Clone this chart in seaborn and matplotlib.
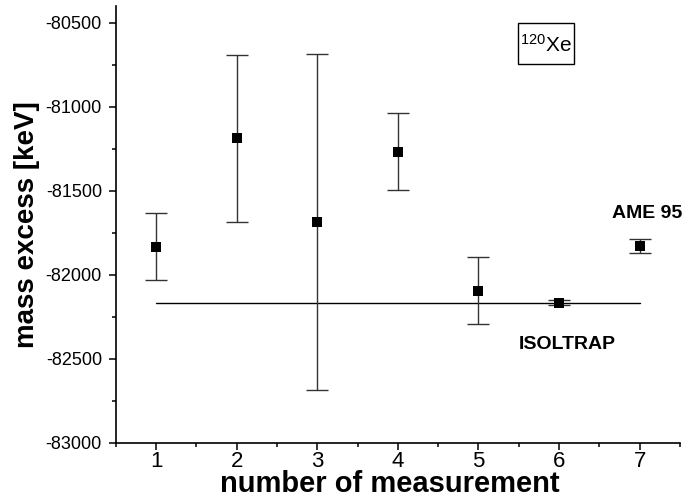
import matplotlib
matplotlib.use("Agg")
import matplotlib.pyplot as plt
from matplotlib.patches import Rectangle
from matplotlib.ticker import MultipleLocator
import seaborn as sns
import pandas as pd

# values
measurement = [1, 2, 3, 4, 5, 6, 7]
mass_excess = [-81832, -81188, -81687, -81268, -82095, -82167, -81830]
mass_error = [200, 497, 1000, 230, 200, 14, 42]
isoltrap_value = -82167
isoltrap_span = [1, 7]

df = pd.DataFrame({"measurement": measurement, "mass_excess": mass_excess, "error": mass_error})

sns.set_style("ticks")
plt.rcParams["font.family"] = ["Liberation Sans", "DejaVu Sans"]
plt.rcParams["mathtext.default"] = "regular"
plt.rcParams["axes.unicode_minus"] = False
for key in ["text.color", "axes.labelcolor", "xtick.color", "ytick.color", "axes.edgecolor"]:
    plt.rcParams[key] = "black"

fig, ax = plt.subplots(figsize=(6.98, 5.01), dpi=100)
fig.subplots_adjust(left=0.166, right=0.974, bottom=0.1164, top=0.988)

# ISOLTRAP reference line
sns.lineplot(x=isoltrap_span, y=[isoltrap_value] * len(isoltrap_span), color="black",
             linewidth=1.0, ax=ax)

# error bars then square markers
ax.errorbar(df["measurement"], df["mass_excess"], yerr=df["error"], fmt="none",
            ecolor="#333333", elinewidth=1.0, capsize=8, capthick=1.0, zorder=2)
sns.scatterplot(data=df, x="measurement", y="mass_excess", marker="s", s=60,
                color="black", edgecolor="black", linewidth=0, zorder=3, ax=ax)

ax.set_xlim(0.5, 7.5)
ax.set_ylim(-83000, -80400)
ax.xaxis.set_major_locator(MultipleLocator(1))
ax.xaxis.set_minor_locator(MultipleLocator(0.5))
ax.yaxis.set_major_locator(MultipleLocator(500))
ax.yaxis.set_minor_locator(MultipleLocator(250))

sns.despine(ax=ax)
for side in ["left", "bottom"]:
    ax.spines[side].set_linewidth(1.2)
ax.tick_params(which="major", length=5, width=1.1, color="black")
ax.tick_params(which="minor", length=3, width=1.1, color="black")
ax.tick_params(axis="y", which="major", labelsize=13, pad=5)
ax.tick_params(axis="x", which="major", labelsize=16, pad=1)

ax.set_xlabel("number of measurement", fontsize=21, fontweight="bold", va="baseline")
ax.set_ylabel("mass excess [keV]", fontsize=20, fontweight="bold")
ax.xaxis.set_label_coords(0.486, -0.113)
ax.yaxis.set_label_coords(-0.135, 0.5)

# isotope box
ax.add_patch(Rectangle((0.713, 0.867), 0.099, 0.095, transform=ax.transAxes,
                       facecolor="white", edgecolor="black", linewidth=1.0, zorder=4))
ax.text(0.762, 0.912, "$^{120}$Xe", transform=ax.transAxes, fontsize=15,
        ha="center", va="center", zorder=5)
ax.text(0.9415, 0.524, "AME 95", transform=ax.transAxes, fontsize=14, fontweight="bold",
        ha="center", va="center")
ax.text(0.801, 0.224, "ISOLTRAP", transform=ax.transAxes, fontsize=14, fontweight="bold",
        ha="center", va="center")

fig.savefig("out.png", dpi=100)
